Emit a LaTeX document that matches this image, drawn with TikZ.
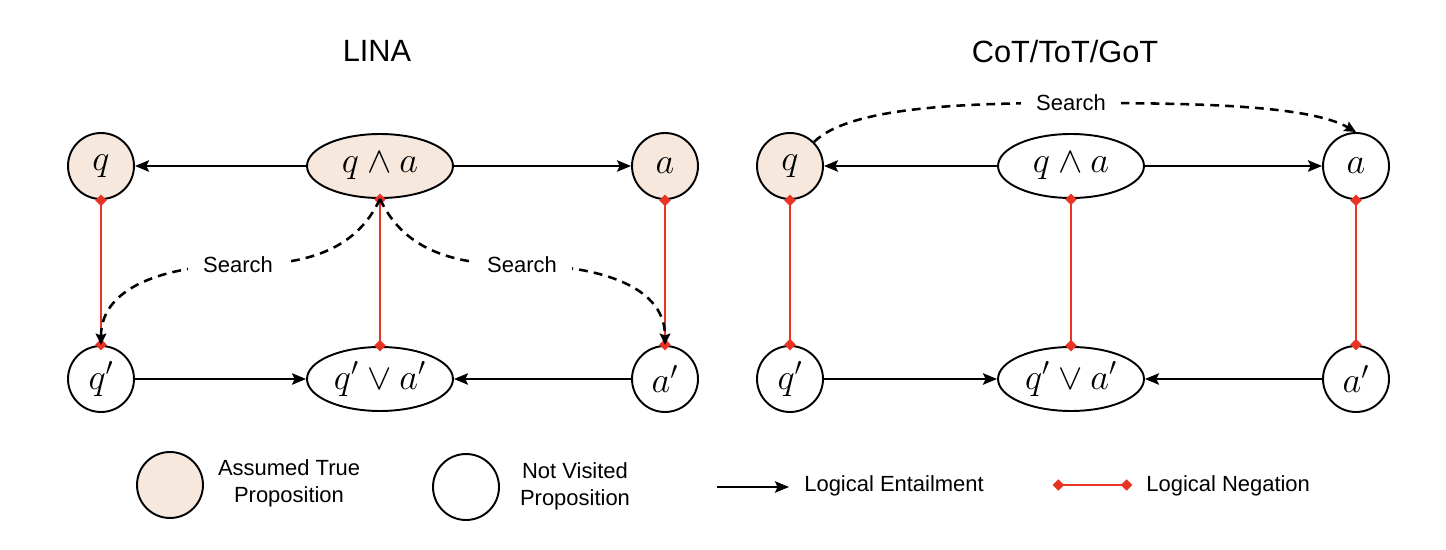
\documentclass[tikz,border=0pt]{standalone}
\usepackage{fontspec}
\setmainfont{Liberation Sans}
\usepackage{xcolor}
\usepackage{tikz}
\usetikzlibrary{arrows.meta, positioning, shapes.geometric}
\definecolor{NegRed}{RGB}{233, 51, 35}
\definecolor{TrueFill}{RGB}{246, 232, 221}

\begin{document}
\begin{tikzpicture}[
    x=0.02cm, y=-0.02cm,
    prop/.style={
      circle, draw=black, line width=1.1pt,
      minimum size=1.32cm, inner sep=0pt,
      font=\fontsize{22}{26}\selectfont
    },
    conj/.style={
      ellipse, draw=black, line width=1.1pt,
      minimum width=2.92cm, minimum height=1.28cm, inner sep=0pt,
      font=\fontsize{22}{26}\selectfont
    },
    assumed/.style={fill=TrueFill},
    title/.style={font=\fontsize{17.5}{21}\selectfont},
    lgtext/.style={inner sep=0pt, align=center, font=\fontsize{12.5}{15.3}\selectfont},
    searchtext/.style={fill=white, inner xsep=0.3cm, inner ysep=1pt, font=\fontsize{12.5}{15}\selectfont},
    entail/.style={-{Stealth[length=8pt, width=6.5pt, inset=1.5pt]}, line width=1.2pt},
    negate/.style={{Diamond[length=6.5pt, width=6.5pt]}-{Diamond[length=6.5pt, width=6.5pt]},
      shorten <=-3pt, shorten >=-3pt, NegRed, line width=1.4pt},
    search/.style={-{Stealth[length=6.5pt, width=6pt, inset=1pt]},
      dash pattern=on 5pt off 3.5pt, line width=1.45pt}
  ]
    \useasboundingbox (0,0) rectangle (1446,550);

    \node[title] (lina) at (377,51) {LINA};
    \node[title] (cot)  at (1065,52) {CoT/ToT/GoT};

    \node[prop, assumed] (q)    at (101,166) {$q$};
    \node[conj, assumed] (qa)   at (380,166) {$q \land a$};
    \node[prop, assumed] (a)    at (665,166) {$a$};
    \node[prop]          (qp)   at (101,379) {$q'$};
    \node[conj]          (qpap) at (380,379) {$q' \lor a'$};
    \node[prop]          (ap)   at (665,379) {$a'$};

    \node[prop, assumed] (rq)    at (790,166)  {$q$};
    \node[conj]          (rqa)   at (1071,166) {$q \land a$};
    \node[prop]          (ra)    at (1356,166) {$a$};
    \node[prop]          (rqp)   at (790,379)  {$q'$};
    \node[conj]          (rqpap) at (1071,379) {$q' \lor a'$};
    \node[prop]          (rap)   at (1356,379) {$a'$};

    \draw[entail] (qa)  -- (q);
    \draw[entail] (qa)  -- (a);
    \draw[entail] (qp)  -- (qpap);
    \draw[entail] (ap)  -- (qpap);
    \draw[entail] (rqa) -- (rq);
    \draw[entail] (rqa) -- (ra);
    \draw[entail] (rqp) -- (rqpap);
    \draw[entail] (rap) -- (rqpap);

    \draw[negate] (q)   -- (qp);
    \draw[negate] (qa)  -- (qpap);
    \draw[negate] (a)   -- (ap);
    \draw[negate] (rq)  -- (rqp);
    \draw[negate] (rqa) -- (rqpap);
    \draw[negate] (ra)  -- (rap);

    \draw[search] (qa.south) to[out=-115, in=0] (238,265) node[searchtext] (srchl) {Search}
      to[out=180, in=90] (qp.north);
    \draw[search] (qa.south) to[out=-65, in=180] (522,265) node[searchtext] (srchr) {Search}
      to[out=0, in=90] (ap.north);
    \draw[search] (rq.45) to[out=45, in=180, out looseness=0.5] (1071,103) node[searchtext] (srcht) {Search}
      to[out=0, in=150, in looseness=0.5] (ra.north);

    \node[prop, assumed] (lgtrue) at (170,485) {};
    \node[lgtext] (lgtruetxt) at (289,483) {Assumed True\\Proposition};
    \node[prop] (lgnot) at (466,487) {};
    \node[lgtext] (lgnottxt) at (575,486) {Not Visited\\Proposition};
    \coordinate (entS) at (717,487);
    \coordinate (entE) at (789,487);
    \draw[entail] (entS) -- (entE);
    \node[lgtext, anchor=west] (enttxt) at (804,486) {Logical Entailment};
    \coordinate (negS) at (1058,485);
    \coordinate (negE) at (1127,485);
    \draw[negate] (negS) -- (negE);
    \node[lgtext, anchor=west] (negtxt) at (1146,486) {Logical Negation};
  \end{tikzpicture}
\end{document}
